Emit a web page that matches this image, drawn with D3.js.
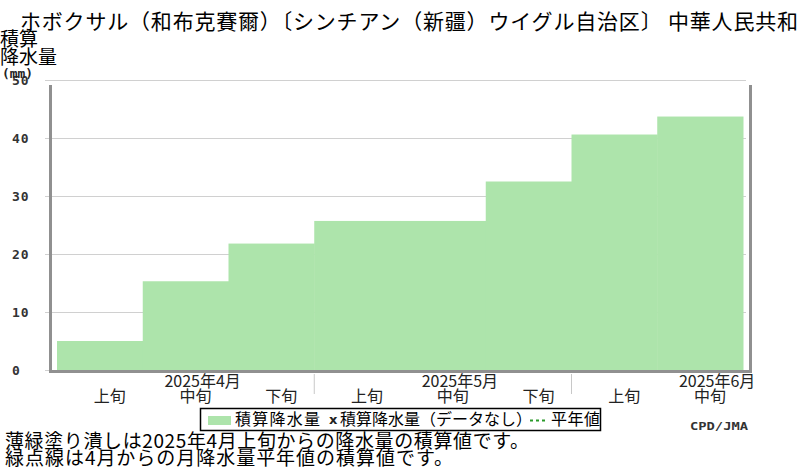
<!DOCTYPE html>
<html>
<head>
<meta charset="utf-8">
<script src="https://cdn.jsdelivr.net/npm/d3@7"></script>
<style>
  body { margin: 0; background: #fff; }
  svg { display: block; font-family: "Noto Sans CJK JP", sans-serif; }
</style>
</head>
<body>
<div id="chart"></div>
<script>
// Data
var dekadLabels = ["上旬", "中旬", "下旬", "上旬", "中旬", "下旬", "上旬", "中旬"];
var monthLabels = ["2025年4月", "2025年5月", "2025年6月"];
var accumPrecip = [5.0, 15.3, 21.8, 25.7, 25.7, 32.5, 40.6, 43.7];
var yTicks = [0, 10, 20, 30, 40, 50];

var width = 800,
    height = 470;

var green = "#ade4ab",
    frameGray = "#909090",
    gridGray = "#d0d0d0";

var svg = d3.select("#chart").append("svg")
    .attr("width", width)
    .attr("height", height);

// Scales
var x = d3.scaleLinear()
    .domain([0, dekadLabels.length])
    .range([57, 743]);

var y = d3.scaleLinear()
    .domain([0, 50])
    .range([370, 80]);

// Grid lines
svg.append("g")
    .selectAll("line")
    .data(yTicks)
    .enter().append("line")
    .attr("x1", 45)
    .attr("x2", 746)
    .attr("y1", function(d) { return y(d) + 0.5; })
    .attr("y2", function(d) { return y(d) + 0.5; })
    .attr("stroke", gridGray)
    .attr("stroke-width", 1);

// Accumulated precipitation (step fill)
svg.append("g")
    .selectAll("rect")
    .data(accumPrecip)
    .enter().append("rect")
    .attr("x", function(d, i) { return x(i); })
    .attr("width", function(d, i) { return x(i + 1) - x(i) + 0.5; })
    .attr("y", function(d) { return y(d); })
    .attr("height", function(d) { return y(0) - y(d); })
    .attr("fill", green);

// Frame
svg.append("path")
    .attr("d", "M50.5,85 V371.5 H750.5 V85")
    .attr("stroke", frameGray)
    .attr("stroke-width", 3)
    .attr("fill", "none");

// Y tick labels
svg.append("g")
    .selectAll("text")
    .data(yTicks)
    .enter().append("text")
    .attr("x", 12)
    .attr("y", function(d) { return y(d) + 5; })
    .attr("font-family", "DejaVu Sans Mono")
    .attr("font-weight", "bold")
    .attr("font-size", 13)
    .attr("letter-spacing", 1)
    .attr("fill", "#333")
    .text(function(d) { return d; });

// Y axis title
svg.append("text").attr("x", 0).attr("y", 46)
    .attr("font-size", 19).text("積算");
svg.append("text").attr("x", 0).attr("y", 64)
    .attr("font-size", 19).text("降水量");
svg.append("text").attr("x", 2).attr("y", 78)
    .attr("font-family", "DejaVu Sans Mono")
    .attr("font-weight", "bold")
    .attr("font-size", 13)
    .attr("textLength", 31)
    .attr("lengthAdjust", "spacingAndGlyphs")
    .attr("fill", "#222")
    .text("(mm)");

// Month separators
svg.append("g")
    .selectAll("line")
    .data([3, 6])
    .enter().append("line")
    .attr("x1", function(d) { return x(d); })
    .attr("x2", function(d) { return x(d); })
    .attr("y1", 374)
    .attr("y2", 394)
    .attr("stroke", "#c8c8c8")
    .attr("stroke-width", 1);

// Dekad labels
svg.append("g")
    .selectAll("text")
    .data(dekadLabels)
    .enter().append("text")
    .attr("x", function(d, i) { return (x(i) + x(i + 1)) / 2 + 10; })
    .attr("y", 402)
    .attr("text-anchor", "middle")
    .attr("font-size", 16)
    .attr("fill", "#222")
    .text(function(d) { return d; });

// Month labels
svg.append("g")
    .selectAll("text")
    .data(monthLabels)
    .enter().append("text")
    .attr("x", function(d, i) { return (x(i * 3 + 1) + x(i * 3 + 2)) / 2 + 17; })
    .attr("y", 387)
    .attr("text-anchor", "middle")
    .attr("font-size", 16)
    .attr("fill", "#222")
    .text(function(d) { return d; });

// Title
svg.append("text")
    .attr("x", 20)
    .attr("y", 29)
    .attr("font-size", 21)
    .attr("textLength", 778)
    .attr("lengthAdjust", "spacing")
    .text("ホボクサル（和布克賽爾）〔シンチアン（新疆）ウイグル自治区〕 中華人民共和");

// Legend
var legend = svg.append("g");
legend.append("rect")
    .attr("x", 200.5).attr("y", 408.5)
    .attr("width", 400).attr("height", 22)
    .attr("fill", "#fff")
    .attr("stroke", "#000")
    .attr("stroke-width", 1.5);
legend.append("rect")
    .attr("x", 208).attr("y", 416)
    .attr("width", 23).attr("height", 9)
    .attr("fill", green);
legend.append("text")
    .attr("x", 235).attr("y", 425)
    .attr("font-size", 16)
    .attr("textLength", 85)
    .text("積算降水量");
legend.append("text")
    .attr("x", 329).attr("y", 424)
    .attr("font-family", "DejaVu Sans")
    .attr("font-weight", "bold")
    .attr("font-size", 13)
    .attr("fill", "#222")
    .text("x");
legend.append("text")
    .attr("x", 340).attr("y", 425)
    .attr("font-size", 16)
    .attr("textLength", 192)
    .text("積算降水量（データなし）");
legend.append("line")
    .attr("x1", 530).attr("x2", 548)
    .attr("y1", 420.5).attr("y2", 420.5)
    .attr("stroke", "#2a9a2a")
    .attr("stroke-width", 2)
    .attr("stroke-dasharray", "3,3");
legend.append("text")
    .attr("x", 551).attr("y", 425)
    .attr("font-size", 16)
    .attr("textLength", 49)
    .text("平年値");

// Notes
svg.append("text")
    .attr("x", 5).attr("y", 448)
    .attr("font-size", 19)
    .attr("textLength", 524)
    .text("薄緑塗り潰しは2025年4月上旬からの降水量の積算値です。");
svg.append("text")
    .attr("x", 5).attr("y", 465)
    .attr("font-size", 19)
    .attr("textLength", 448)
    .text("緑点線は4月からの月降水量平年値の積算値です。");

// Credit
svg.append("text")
    .attr("x", 690).attr("y", 430)
    .attr("font-family", "DejaVu Sans Mono")
    .attr("font-weight", "bold")
    .attr("font-size", 10)
    .attr("textLength", 58)
    .attr("lengthAdjust", "spacingAndGlyphs")
    .attr("fill", "#333")
    .text("CPD/JMA");
</script>
</body>
</html>
